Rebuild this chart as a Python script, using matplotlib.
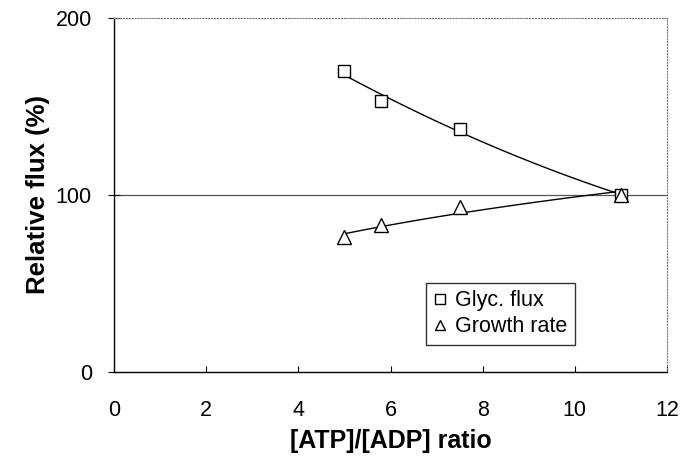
import numpy as np
import matplotlib
matplotlib.use('Agg')
import matplotlib.pyplot as plt

plt.rcParams['font.family'] = ['Liberation Sans', 'DejaVu Sans']

ratio = [5.0, 5.8, 7.5, 11.0]
glyc_flux = [170, 153, 137.5, 100]
growth_rate = [76, 83, 93, 100]

fig = plt.figure(figsize=(6.93, 4.62), dpi=100)
ax = fig.add_axes([0.1645, 0.195, 0.798, 0.766])

# trend lines: 2nd order for flux, power law for growth
xf = np.linspace(min(ratio), max(ratio), 100)
c = np.polyfit(ratio, glyc_flux, 2)
ax.plot(xf, np.polyval(c, xf), color='black', lw=1.0, zorder=2)
b, a = np.polyfit(np.log(ratio), np.log(growth_rate), 1)
ax.plot(xf, np.exp(a) * xf**b, color='black', lw=1.0, zorder=2)

ax.axhline(100, color='#555555', lw=0.9, zorder=1)

ax.plot(ratio, glyc_flux, ls='none', marker='s', ms=9, mfc='white', mec='black',
        mew=1.0, label='Glyc. flux', zorder=3)
ax.plot(ratio, growth_rate, ls='none', marker='^', ms=10, mfc='white', mec='black',
        mew=1.0, label='Growth rate', zorder=3)

ax.set_xlim(0, 12)
ax.set_ylim(0, 200)
ax.set_xticks(range(0, 13, 2))
ax.set_yticks([0, 100, 200])
ax.tick_params(axis='x', direction='in', length=4, labelsize=15.5, pad=20)
ax.tick_params(axis='y', direction='inout', length=8, labelsize=15.5, pad=12)

for s in ('top', 'right'):
    ax.spines[s].set_linestyle(':')
    ax.spines[s].set_color('#777777')
ax.spines['left'].set_linewidth(1.0)
ax.spines['bottom'].set_linewidth(1.0)

ax.set_xlabel('[ATP]/[ADP] ratio', fontsize=18, fontweight='bold', labelpad=6)
ax.set_ylabel('Relative flux (%)', fontsize=18.5, fontweight='bold', labelpad=4)

leg = ax.legend(loc='lower left', bbox_to_anchor=(0.564, 0.076), fontsize=15.5,
                frameon=True, fancybox=False, edgecolor='black', handlelength=0.6,
                handletextpad=0.4, markerscale=0.75, borderpad=0.35, labelspacing=0.25,
                borderaxespad=0)
leg.get_frame().set_linewidth(1.0)

fig.savefig('out.png', dpi=100)
